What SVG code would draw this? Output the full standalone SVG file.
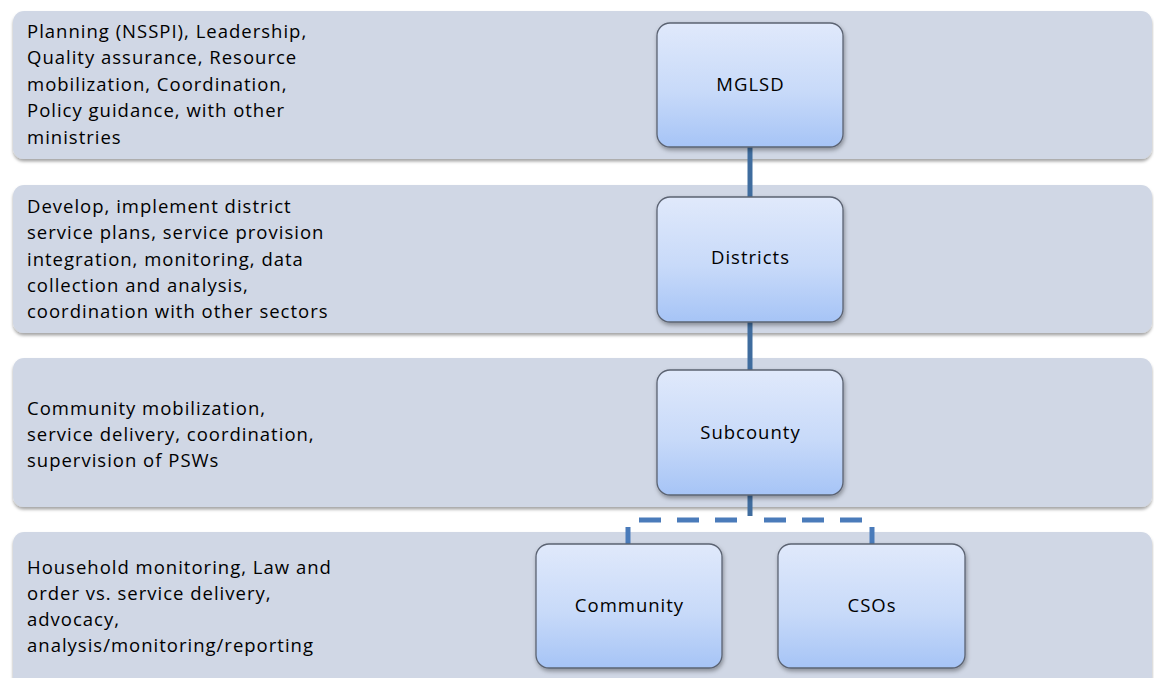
<svg xmlns="http://www.w3.org/2000/svg" width="1154" height="678" viewBox="0 0 1154 678">
  <defs>
    <linearGradient id="nodeGrad" x1="0" y1="0" x2="0" y2="1">
      <stop offset="0" stop-color="#e0e9fb"/>
      <stop offset="0.55" stop-color="#c8daf9"/>
      <stop offset="1" stop-color="#a6c4f6"/>
    </linearGradient>
    <filter id="bandShadow" x="-5%" y="-10%" width="110%" height="125%">
      <feDropShadow dx="0" dy="2.5" stdDeviation="1.8" flood-color="#000" flood-opacity="0.35"/>
    </filter>
    <filter id="nodeShadow" x="-10%" y="-10%" width="125%" height="125%">
      <feDropShadow dx="1" dy="2.5" stdDeviation="2" flood-color="#000" flood-opacity="0.35"/>
    </filter>
  </defs>
  <style>
    .band { fill: #d0d7e5; filter: url(#bandShadow); }
    .node { fill: url(#nodeGrad); stroke: #5b6372; stroke-width: 1.3; filter: url(#nodeShadow); }
    .desc { font-family: "Open Sans", "Liberation Sans", sans-serif; font-size: 18.5px; letter-spacing: 1px; fill: #000; }
    .label { font-family: "Open Sans", "Liberation Sans", sans-serif; font-size: 18.5px; letter-spacing: 1px; fill: #000; text-anchor: middle; }
    .solid { stroke: #3f6c9e; stroke-width: 5; fill: none; }
    .dash { stroke: #4a7bba; stroke-width: 5; fill: none; }
  </style>
  <rect width="1154" height="678" fill="#ffffff"/>

  <g id="band1">
    <rect class="band" x="13" y="11" width="1139" height="148" rx="11"/>
    <text class="desc">
      <tspan x="27" y="37.5">Planning (NSSPI), Leadership,</tspan>
      <tspan x="27" y="64">Quality assurance, Resource</tspan>
      <tspan x="27" y="90.5">mobilization, Coordination,</tspan>
      <tspan x="27" y="117">Policy guidance, with other</tspan>
      <tspan x="27" y="143.5">ministries</tspan>
    </text>
  </g>
  <g id="band2">
    <rect class="band" x="13" y="185" width="1139" height="148" rx="11"/>
    <text class="desc">
      <tspan x="27" y="213">Develop, implement district</tspan>
      <tspan x="27" y="239">service plans, service provision</tspan>
      <tspan x="27" y="265.5">integration, monitoring, data</tspan>
      <tspan x="27" y="291.5">collection and analysis,</tspan>
      <tspan x="27" y="317.5">coordination with other sectors</tspan>
    </text>
  </g>
  <g id="band3">
    <rect class="band" x="13" y="358" width="1139" height="149" rx="11"/>
    <text class="desc">
      <tspan x="27" y="415">Community mobilization,</tspan>
      <tspan x="27" y="441">service delivery, coordination,</tspan>
      <tspan x="27" y="466.5">supervision of PSWs</tspan>
    </text>
  </g>
  <g id="band4">
    <rect class="band" x="13" y="532" width="1139" height="160" rx="11"/>
    <text class="desc">
      <tspan x="27" y="574">Household monitoring, Law and</tspan>
      <tspan x="27" y="600">order vs. service delivery,</tspan>
      <tspan x="27" y="626">advocacy,</tspan>
      <tspan x="27" y="652">analysis/monitoring/reporting</tspan>
    </text>
  </g>

  <g id="connectors">
    <line class="solid" x1="750" y1="147" x2="750" y2="197"/>
    <line class="solid" x1="750" y1="322" x2="750" y2="370"/>
    <line class="solid" x1="750" y1="495" x2="750" y2="516"/>
    <line class="dash" x1="639" y1="520" x2="737" y2="520" stroke-dasharray="22 16"/>
    <line class="dash" x1="764" y1="520" x2="862" y2="520" stroke-dasharray="22 16"/>
    <line class="dash" x1="628" y1="527" x2="628" y2="544"/>
    <line class="dash" x1="872" y1="527" x2="872" y2="544"/>
  </g>

  <g id="node-mglsd">
    <rect class="node" x="657" y="23" width="186" height="124" rx="13"/>
    <text class="label" x="750.5" y="91">MGLSD</text>
  </g>
  <g id="node-districts">
    <rect class="node" x="657" y="197" width="186" height="125" rx="13"/>
    <text class="label" x="750.5" y="264">Districts</text>
  </g>
  <g id="node-subcounty">
    <rect class="node" x="657" y="370" width="186" height="125" rx="13"/>
    <text class="label" x="750.5" y="439">Subcounty</text>
  </g>
  <g id="node-community">
    <rect class="node" x="536" y="544" width="186" height="124" rx="13"/>
    <text class="label" x="629.5" y="612">Community</text>
  </g>
  <g id="node-csos">
    <rect class="node" x="778" y="544" width="187" height="124" rx="13"/>
    <text class="label" x="872" y="612">CSOs</text>
  </g>
</svg>
